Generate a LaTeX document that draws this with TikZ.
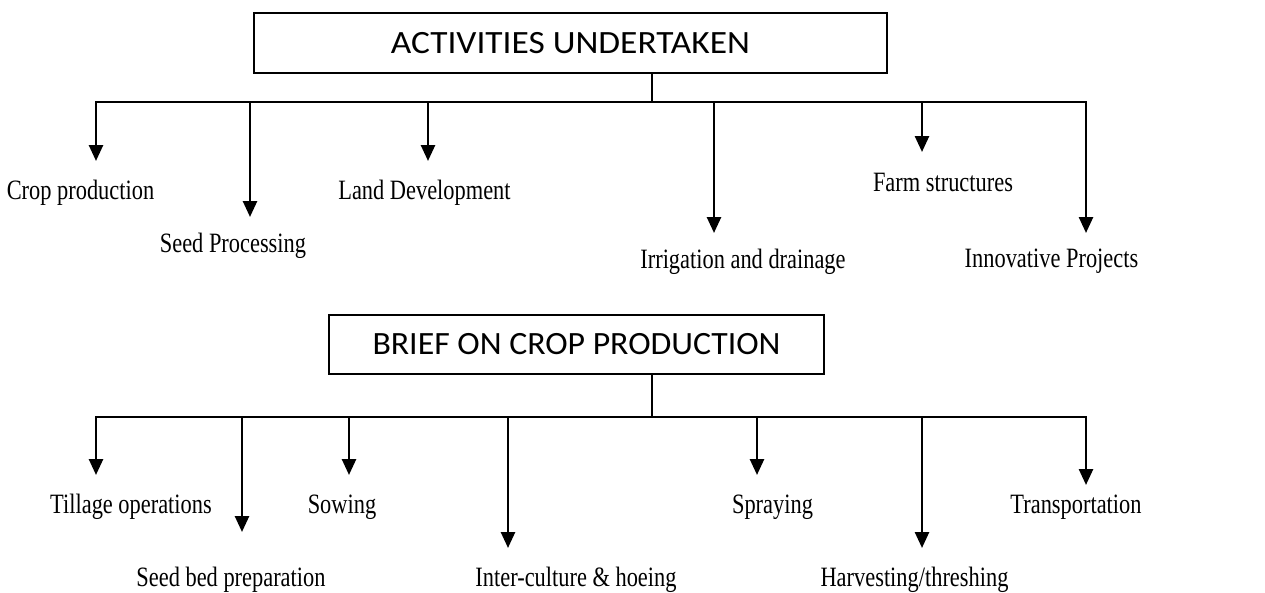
\documentclass[tikz,border=0pt]{standalone}
\usepackage{fontspec}
\setmainfont{Liberation Serif}[FakeStretch=0.8]
\newfontfamily\hdrfont{Carlito}[FakeStretch=1.09]
\newfontfamily\hdrfontb{Carlito}[FakeStretch=1.04]
\usetikzlibrary{arrows.meta}
\tikzset{
  conn/.style={line width=2.6pt, black},
  arr/.style={conn, -{Triangle[width=14pt,length=16pt]}},
  hbox/.style={draw, line width=2.6pt, inner sep=0pt},
  lbl/.style={anchor=base, inner sep=0pt, font=\fontsize{28}{32}\selectfont},
}
\begin{document}
\begin{tikzpicture}[x=1pt,y=-1pt]
\useasboundingbox (0,0) rectangle (1265,592);
% ---------- top tree ----------
\node[hbox, minimum width=633pt, minimum height=60pt, font=\hdrfont\fontsize{32.5}{38}\selectfont] (top) at (570.5,43) {ACTIVITIES UNDERTAKEN};
\coordinate (j1) at (652,102);
\coordinate (a1) at (96,161);
\coordinate (a2) at (250,217);
\coordinate (a3) at (428,161);
\coordinate (a4) at (714,233);
\coordinate (a5) at (922,152);
\coordinate (a6) at (1086,233);
\node[lbl] (l1) at (80.5,199) {Crop production};
\node[lbl] (l2) at (233,252) {Seed Processing};
\node[lbl] (l3) at (424.5,199) {Land Development};
\node[lbl] (l4) at (743,268) {Irrigation and drainage};
\node[lbl] (l5) at (943,191) {Farm structures};
\node[lbl] (l6) at (1051.5,267) {Innovative Projects};
\draw[conn] (top.south -| j1) -- (j1);
\draw[conn, line cap=rect] (a1 |- j1) -- (a6 |- j1);
\foreach \t in {a1,a2,a3,a4,a5,a6} \draw[arr] (\t |- j1) -- (\t);
% ---------- bottom tree ----------
\node[hbox, minimum width=495pt, minimum height=59pt, font=\hdrfontb\fontsize{32.5}{38}\selectfont] (brief) at (576.5,344.5) {BRIEF ON CROP PRODUCTION};
\coordinate (j2) at (652,417);
\coordinate (b1) at (96,475);
\coordinate (b2) at (242,532);
\coordinate (b3) at (349,475);
\coordinate (b4) at (508,548);
\coordinate (b5) at (757,475);
\coordinate (b6) at (922,548);
\coordinate (b7) at (1086,485);
\node[lbl] (m1) at (131,513) {Tillage operations};
\node[lbl] (m2) at (231,586) {Seed bed preparation};
\node[lbl] (m3) at (342,513) {Sowing};
\node[lbl] (m4) at (576,586) {Inter-culture \& hoeing};
\node[lbl] (m5) at (772.5,513) {Spraying};
\node[lbl] (m6) at (914.5,586) {Harvesting/threshing};
\node[lbl] (m7) at (1076,513) {Transportation};
\draw[conn] (brief.south -| j2) -- (j2);
\draw[conn, line cap=rect] (b1 |- j2) -- (b7 |- j2);
\foreach \t in {b1,b2,b3,b4,b5,b6,b7} \draw[arr] (\t |- j2) -- (\t);
\end{tikzpicture}
\end{document}
